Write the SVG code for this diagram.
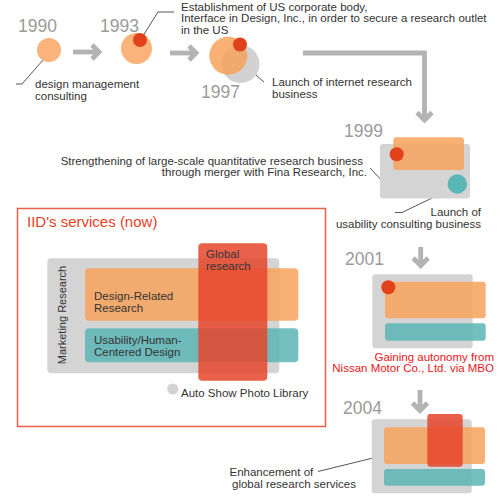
<svg xmlns="http://www.w3.org/2000/svg" width="500" height="497" viewBox="0 0 500 497">
<defs>
<style>
text{font-family:"Liberation Sans",Arial,sans-serif;font-size:11.5px;fill:#333}
.yr{font-size:17.5px;fill:#9a9a9a}
.red{fill:#e8161b}
.ttl{font-size:15px;fill:#e8401f}
.end{text-anchor:end}
.arr{fill:none;stroke:#b3b3b3;stroke-width:4.8;stroke-linejoin:miter;stroke-miterlimit:10}
.ln{fill:none;stroke:#555;stroke-width:1}
.gray{fill:#d4d4d4}
.org{fill:#f7a25c;opacity:0.85}
.orgs{fill:#fbb27b}
.teal{fill:#5cb5b5;opacity:0.85}
.tealc{fill:#5bb6b6}
.redf{fill:#e6452c;opacity:0.85}
.redc{fill:#e2421a}
</style>
</defs>

<g id="connectors">
<polyline class="arr" points="73,52 100,52"/>
<polyline class="arr" points="92,45 99,52 92,59"/>
<polyline class="arr" points="170,53 197,53"/>
<polyline class="arr" points="189,46 196,53 189,60"/>
<polyline class="arr" points="303,53 424.5,53 424.5,119"/>
<polyline class="arr" points="417,112.5 424.5,120 432,112.5"/>
<polyline class="arr" points="420.7,247 420.7,265"/>
<polyline class="arr" points="413.2,258 420.7,265.5 428.2,258"/>
<polyline class="arr" points="420,390 420,410"/>
<polyline class="arr" points="412.5,403 420,410.5 427.5,403"/>
<polyline class="ln" points="50,52 22,84 16,84"/>
<polyline class="ln" points="141,39 158,12 174,12"/>
<polyline class="ln" points="248,68 264,82"/>
<polyline class="ln" points="370,168 385,184"/>
<polyline class="ln" points="455,187 402,212.5 395,212.5"/>
<polyline class="ln" points="434,443 318,471.5"/>
</g>

<g id="n1990">
<text class="yr" x="18" y="32">1990</text>
<circle class="orgs" cx="49" cy="50" r="12"/>
<text x="35" y="87.5">design management</text>
<text x="35" y="99.5">consulting</text>
</g>

<g id="n1993">
<text class="yr" x="100" y="32">1993</text>
<circle class="orgs" cx="136.5" cy="48.5" r="15.5"/>
<circle class="redc" cx="140" cy="40" r="7"/>
<text x="181" y="10.5">Establishment of US corporate body,</text>
<text x="181" y="22">Interface in Design, Inc., in order to secure a research outlet</text>
<text x="181" y="33.5">in the US</text>
</g>

<g id="n1997">
<circle cx="240.5" cy="64" r="19" fill="#d2d2d2"/>
<circle class="org" cx="228.3" cy="55.7" r="19"/>
<circle class="redc" cx="240" cy="44.5" r="7"/>
<text class="yr" x="201" y="98">1997</text>
<text x="272" y="86">Launch of internet research</text>
<text x="272" y="97.5">business</text>
</g>

<g id="n1999">
<text class="yr" x="344" y="136.5">1999</text>
<rect class="gray" x="380" y="144" width="90" height="54.5" rx="3"/>
<rect class="org" x="393.3" y="137.3" width="70.7" height="32.7" rx="3"/>
<circle class="redc" cx="396.7" cy="154.3" r="7"/>
<circle class="tealc" cx="457.3" cy="184" r="9.7"/>
<text class="end" x="363" y="164.5">Strengthening of large-scale quantitative research business</text>
<text class="end" x="367" y="176">through merger with Fina Research, Inc.</text>
<text class="end" x="481" y="216">Launch of</text>
<text class="end" x="481" y="228">usability consulting business</text>
</g>

<g id="services">
<rect x="17.5" y="208.5" width="308" height="218" fill="none" stroke="#e8604a" stroke-width="1.5"/>
<text class="ttl" x="27" y="226.5">IID's services (now)</text>
<rect class="gray" x="47.3" y="258.3" width="232" height="115" rx="4"/>
<rect class="org" x="85" y="268.3" width="213.3" height="52.4" rx="4"/>
<rect class="teal" x="85" y="328.3" width="213.3" height="34" rx="4"/>
<rect class="redf" x="198.3" y="243.3" width="69" height="137.4" rx="4"/>
<text transform="translate(65.5,315) rotate(-90)" text-anchor="middle" style="font-size:11px">Marketing Research</text>
<text x="94" y="299.5">Design-Related</text>
<text x="94" y="311.5">Research</text>
<text x="94" y="343.5">Usability/Human-</text>
<text x="94" y="355.5">Centered Design</text>
<text x="206" y="257.5">Global</text>
<text x="206" y="269.5">research</text>
<circle cx="172.7" cy="389" r="5.5" fill="#d2d2d2"/>
<text x="181" y="396.5">Auto Show Photo Library</text>
</g>

<g id="n2001">
<text class="yr" x="345" y="265">2001</text>
<rect class="gray" x="372.3" y="274.3" width="100.4" height="74" rx="3"/>
<rect class="org" x="385" y="281.7" width="100.7" height="36.6" rx="3"/>
<rect class="teal" x="385" y="323.3" width="100.7" height="17.4" rx="3"/>
<circle class="redc" cx="388.3" cy="287.3" r="7"/>
<text class="red end" x="494" y="360.5">Gaining autonomy from</text>
<text class="red end" x="494" y="372">Nissan Motor Co., Ltd. via MBO</text>
</g>

<g id="n2004">
<text class="yr" x="343" y="414">2004</text>
<rect class="gray" x="371.7" y="419.3" width="100" height="74" rx="3"/>
<rect class="org" x="384" y="427.3" width="101" height="36.7" rx="3"/>
<rect class="teal" x="384" y="469" width="101" height="16.7" rx="3"/>
<rect class="redf" x="427.3" y="414" width="35.4" height="52.7" rx="3"/>
<text x="229.5" y="476">Enhancement of</text>
<text x="232" y="488">global research services</text>
</g>
</svg>
